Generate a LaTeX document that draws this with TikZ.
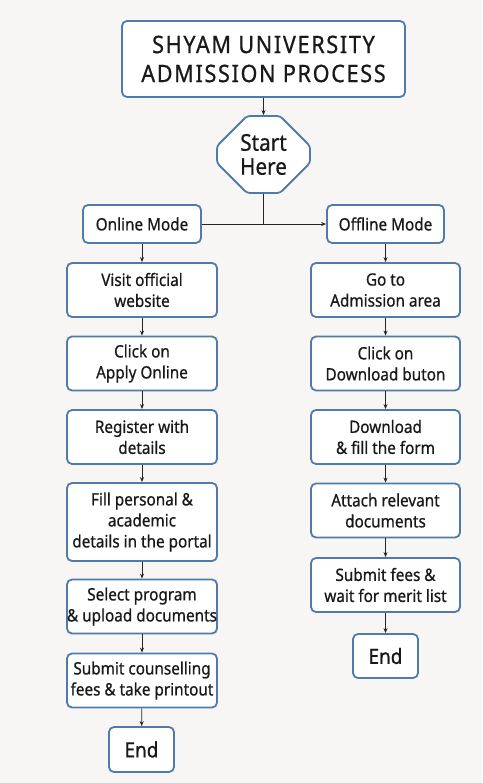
\documentclass[tikz,border=0pt]{standalone}
\usepackage{fontspec}
\setmainfont{Noto Sans}[FakeStretch=0.9,FakeBold=0.7]
\usetikzlibrary{arrows.meta,shapes.misc}
\definecolor{boxline}{HTML}{4F7BAA}
\definecolor{paper}{HTML}{F7F6F4}
\begin{document}
\begin{tikzpicture}[x=1pt,y=-1pt,
    box/.style={draw=boxline,fill=white,line width=1.8pt,rounded corners=5pt,
      align=center,inner sep=0pt,text=black!90,font=\fontsize{17}{21}\selectfont},
    colbox/.style={box,minimum width=150pt,minimum height=54pt},
    endbox/.style={box,minimum width=65pt,minimum height=45pt,font=\fontsize{21}{24}\selectfont}]
  \fill[paper] (0,0) rectangle (482,783);
  \useasboundingbox (0,0) rectangle (482,783);
  \draw
    (263.5,59) node[box,minimum width=283pt,minimum height=76pt,
      font=\fontsize{24}{29}\selectfont\addfontfeatures{LetterSpace=7}] (title){SHYAM UNIVERSITY\\ADMISSION PROCESS}
    (263.5,154.5) node[box,rounded corners=3pt,chamfered rectangle,
      chamfered rectangle xsep=15pt,chamfered rectangle ysep=15pt,
      minimum width=93pt,minimum height=77pt,
      font=\fontsize{23}{24}\selectfont] (start){Start\\Here}
    (142,224) node[box,minimum width=118pt,minimum height=38pt] (on){Online Mode}
    (385.5,224) node[box,minimum width=117pt,minimum height=38pt] (off){Offline Mode};
  % online column
  \draw
    (142,290) node[colbox] (on1){Visit official\\website}
    (142,363.5) node[colbox] (on2){Click on\\Apply Online}
    (142,437) node[colbox] (on3){Register with\\details}
    (142,522) node[colbox,minimum height=78pt] (on4){Fill personal \&\\academic\\details in the portal}
    (142,606.5) node[colbox] (on5){Select program\\\& upload documents}
    (142,680.5) node[colbox] (on6){Submit counselling\\fees \& take printout}
    (141.5,749.5) node[endbox] (on7){End};
  % offline column
  \draw
    (385.5,290) node[colbox,minimum width=149pt] (off1){Go to\\Admission area}
    (385.5,363.5) node[colbox,minimum width=149pt] (off2){Click on\\Download buton}
    (385.5,437) node[colbox,minimum width=149pt] (off3){Download\\\& fill the form}
    (385.5,510.5) node[colbox,minimum width=149pt] (off4){Attach relevant\\documents}
    (385.5,585) node[colbox,minimum width=149pt] (off5){Submit fees \&\\wait for merit list}
    (385.5,656) node[endbox,minimum height=44pt] (off6){End};
  \coordinate (split) at (start |- on);
  \begin{scope}[-{Stealth[length=5pt,width=4pt]},line width=0.8pt,draw=black!85]
    \draw (title) to (start);
    \draw[-] (start) to (split);
    \draw (on) to (off);
    \draw (on) to (on1);
    \draw (on1) to (on2);
    \draw (on2) to (on3);
    \draw (on3) to (on4);
    \draw (on4) to (on5);
    \draw (on5) to (on6);
    \draw (on6) to (on7);
    \draw (off) to (off1);
    \draw (off1) to (off2);
    \draw (off2) to (off3);
    \draw (off3) to (off4);
    \draw (off4) to (off5);
    \draw (off5) to (off6);
  \end{scope}
\end{tikzpicture}
\end{document}
